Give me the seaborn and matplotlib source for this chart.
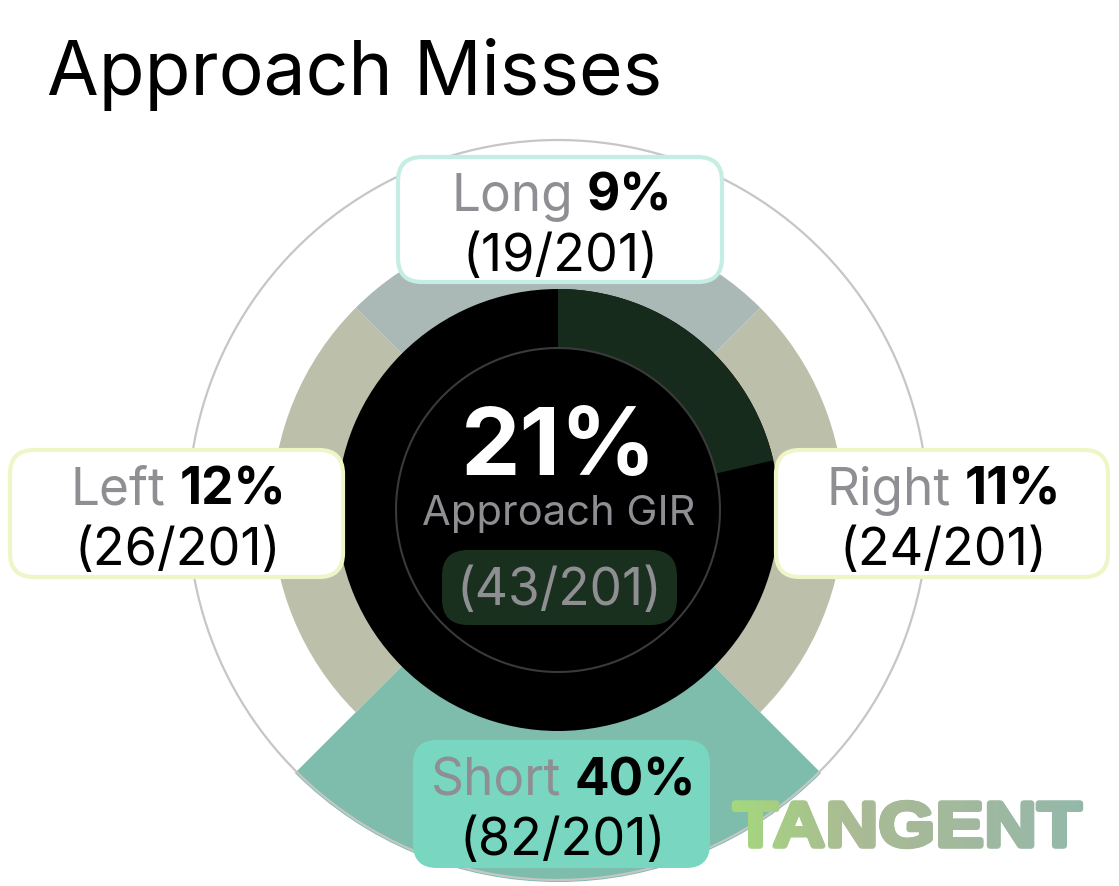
import numpy as np
import matplotlib
matplotlib.use("Agg")
import matplotlib.pyplot as plt
import seaborn as sns
from matplotlib.patches import FancyBboxPatch, PathPatch
from matplotlib.textpath import TextPath
from matplotlib.font_manager import FontProperties
from matplotlib.transforms import Affine2D
from matplotlib.colors import LinearSegmentedColormap

# ── data ────────────────────────────────────────────────────────────
directions = ["Long", "Right", "Short", "Left"]
miss_counts = [19, 24, 82, 26]
miss_pct = [9, 11, 40, 12]
total_shots = 201
gir_count = 43
gir_pct = 21

# ── styling ─────────────────────────────────────────────────────────
sns.set_theme(style="white")
plt.rcParams["font.family"] = ["Inter", "DejaVu Sans"]

GRAY_TXT = "#8e8e93"
sector_colors = {"Long": "#aab9b6", "Right": "#bcbfaa", "Short": "#7ebcac", "Left": "#bcbfaa"}
box_face = {"Long": "white", "Right": "white", "Short": "#78d6c1", "Left": "white"}
box_edge = {"Long": "#c4eee3", "Right": "#eef6c8", "Short": "none", "Left": "#eef6c8"}
# label box layout in pixels: x0, x1, y0, y1
box_pos = {"Long": (398, 722, 157, 282), "Right": (776, 1108, 450, 577),
           "Short": (413, 710, 740, 868), "Left": (10, 343, 450, 577)}

W, H = 1119, 886
CX, CY = 558, 510
R_AX = 380
R_HOLE = 162
R_DISK = 221
R_BASE = 286
R_FULL = 372
R_RING = 370

fig = plt.figure(figsize=(W / 100, H / 100), dpi=100)

# ── polar part ──────────────────────────────────────────────────────
ax = fig.add_axes([(CX - R_AX) / W, (H - CY - R_AX) / H, 2 * R_AX / W, 2 * R_AX / H],
                  projection="polar")
ax.set_theta_zero_location("N")
ax.set_theta_direction(-1)
ax.set_ylim(0, R_AX)
ax.set_axis_off()

theta = np.arange(len(directions)) * np.pi / 2
outer = [R_FULL if p == max(miss_pct) else R_BASE for p in miss_pct]
ax.bar(theta, outer, width=np.pi / 2, bottom=0,
       color=[sector_colors[d] for d in directions], linewidth=0, zorder=1)

full = np.linspace(0, 2 * np.pi, 400)
ax.plot(full, np.full_like(full, R_RING), color="#c6c6c6", lw=1.6, zorder=2)

ax.bar(0, R_DISK, width=2 * np.pi, bottom=0, color="black", linewidth=0, zorder=3)
gir_w = 2 * np.pi * gir_count / total_shots
ax.bar(gir_w / 2, R_DISK - R_HOLE, width=gir_w, bottom=R_HOLE,
       color="#172b1c", linewidth=0, zorder=4)
ax.plot(full, np.full_like(full, R_HOLE), color="#3a3a3a", lw=1.5, zorder=5)

# ── overlay in pixel coordinates ────────────────────────────────────
ax0 = fig.add_axes([0, 0, 1, 1], zorder=2)
ax0.set_xlim(0, W)
ax0.set_ylim(H, 0)
ax0.axis("off")
ax0.patch.set_alpha(0)
renderer = fig.canvas.get_renderer()


def two_part(x, y, a, b, size, ca, cb):
    t1 = ax0.text(0, y, a, fontsize=size, color=ca, va="baseline", ha="left")
    t2 = ax0.text(0, y, b, fontsize=size, color=cb, fontweight="bold",
                  va="baseline", ha="left")
    w1 = t1.get_window_extent(renderer).width
    w2 = t2.get_window_extent(renderer).width
    gap = size * 0.27 * 100 / 72
    start = x - (w1 + gap + w2) / 2
    t1.set_x(start)
    t2.set_x(start + w1 + gap)


for d, c, p in zip(directions, miss_counts, miss_pct):
    x0, x1, y0, y1 = box_pos[d]
    ax0.add_patch(FancyBboxPatch((x0, y0), x1 - x0, y1 - y0,
                                 boxstyle="round,pad=0,rounding_size=24",
                                 facecolor=box_face[d], edgecolor=box_edge[d],
                                 linewidth=3 if box_edge[d] != "none" else 0))
    cx, cy = (x0 + x1) / 2, (y0 + y1) / 2
    two_part(cx + 2, cy - 9, d, f"{p}%", 37, GRAY_TXT, "black")
    ax0.text(cx + 1, cy + 51, f"({c}/{total_shots})", fontsize=37.5, color="black",
             ha="center", va="baseline")

# centre
ax0.text(CX + 1, 475, f"{gir_pct}%", fontsize=68, color="white", fontweight="bold",
         ha="center", va="baseline")
ax0.text(CX + 1, 525, "Approach GIR", fontsize=30, color=GRAY_TXT,
         ha="center", va="baseline")
ax0.add_patch(FancyBboxPatch((442, 550), 235, 75, boxstyle="round,pad=0,rounding_size=26",
                             facecolor="#19301f", edgecolor="none"))
ax0.text(CX + 1, 605, f"({gir_count}/{total_shots})", fontsize=37, color=GRAY_TXT,
         ha="center", va="baseline")

# title
ax0.text(47, 95, "Approach Misses", fontsize=54, color="black", ha="left", va="baseline")

# logo: gradient fill clipped to a slightly dilated text outline
fp = FontProperties(family="Liberation Sans", weight="bold")
tp = TextPath((0, 0), "TANGENT", size=100, prop=fp)
bb = tp.get_extents()
lx0, lx1, ly0, ly1 = 734, 1081, 802, 847
cmap = LinearSegmentedColormap.from_list("tangent", ["#a4d97c", "#aabb94", "#a2b99e", "#93b8ab"])
grad = np.linspace(0, 1, 256)[None, :]
for ang in [None] + list(np.linspace(0, 2 * np.pi, 12, endpoint=False)):
    ox, oy = (0, 0) if ang is None else (2.2 * np.cos(ang), 2.2 * np.sin(ang))
    tr = (Affine2D().translate(-bb.x0, -bb.y0)
          .scale((lx1 - lx0) / bb.width, -(ly1 - ly0) / bb.height)
          .translate(lx0 + ox, ly1 + oy))
    clip = PathPatch(tr.transform_path(tp), transform=ax0.transData,
                     facecolor="none", edgecolor="none")
    ax0.add_patch(clip)
    im = ax0.imshow(grad, extent=(lx0 - 4, lx1 + 4, ly1 + 4, ly0 - 4), cmap=cmap,
                    aspect="auto", zorder=3)
    im.set_clip_path(clip)
ax0.set_xlim(0, W)
ax0.set_ylim(H, 0)

fig.savefig("out.png", dpi=100)
